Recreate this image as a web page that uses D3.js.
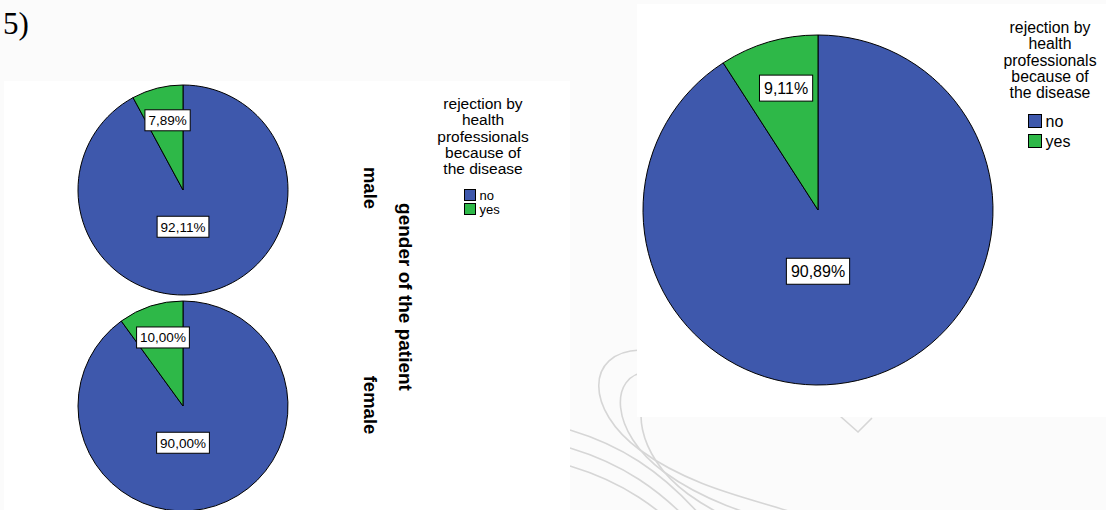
<!DOCTYPE html>
<html><head><meta charset="utf-8">
<script src="https://cdn.jsdelivr.net/npm/d3@7"></script>
<style>
html,body{margin:0;padding:0;background:#fbfbfb;}
svg{display:block;font-family:"Liberation Sans",Arial,sans-serif;}
</style></head>
<body>
<svg id="chart" width="1106" height="510"></svg>
<script>
const categories = ["no", "yes"];
const colors = ["#3e58ac", "#2eb848"];
const maleValues = [92.11, 7.89];
const femaleValues = [90.00, 10.00];
const totalValues = [90.89, 9.11];
const rowLabels = ["male", "female"];
const rowAxisTitle = "gender of the patient";
const legendTitle = ["rejection by", "health", "professionals", "because of", "the disease"];
const figureLabel = "5)";

const svg = d3.select("#chart");
const fmt = v => d3.format(".2f")(v).replace(".", ",") + "%";
const color = d3.scaleOrdinal().domain(categories).range(colors);

// background watermark
const wm = svg.append("g").attr("fill", "none").attr("stroke", "#d6d6d6").attr("stroke-width", 1.6);
[[0,0],[24,22],[48,44]].forEach(([a,b]) => {
  wm.append("path").attr("d", `M${640+a*0.3},${350+b} C${585+a},${352+b} ${585+a},${410+b} ${640+a},${450+b} S${760+a},${500+b} ${800+a},${515+b}`);
});
[0,18,36].forEach(a => {
  wm.append("path").attr("d", `M570,${430+a} C620,${445+a} 660,${470+a} 700,${515+a}`);
});
wm.append("path").attr("d", "M840,416 L858,432 L872,418");

// panels
svg.append("rect").attr("x", 4).attr("y", 81).attr("width", 566).attr("height", 429).attr("fill", "#fff");
svg.append("rect").attr("x", 637).attr("y", 4).attr("width", 469).attr("height", 413).attr("fill", "#fff");

svg.append("text").attr("x", 3).attr("y", 34).attr("font-family", "'Liberation Serif','Times New Roman',serif")
  .attr("font-size", 31).attr("fill", "#000").text(figureLabel);

const pie = d3.pie().sort(null).value(d => d);

function drawPie(values, cx, cy, r, fontSize, padX, boxH, lr) {
  const g = svg.append("g").attr("transform", `translate(${cx},${cy})`);
  const arcs = pie(values);
  const arc = d3.arc().innerRadius(0).outerRadius(r);
  g.selectAll("path").data(arcs).enter().append("path")
    .attr("d", arc).attr("fill", (d, i) => color(categories[i]))
    .attr("stroke", "#000").attr("stroke-width", 1);
  arcs.forEach((d, i) => {
    let x, y;
    if (d.endAngle - d.startAngle > Math.PI) {
      x = 0; y = r * 0.35;
    } else {
      const a = (d.startAngle + d.endAngle) / 2 + 0.03;
      const rr = r * lr;
      x = Math.sin(a) * rr; y = -Math.cos(a) * rr;
    }
    const lg = g.append("g").attr("transform", `translate(${x},${y})`);
    const t = lg.append("text").attr("text-anchor", "middle").attr("dy", "0.36em")
      .attr("font-size", fontSize).attr("fill", "#000").text(fmt(values[i]));
    const w = t.node().getComputedTextLength() + padX * 2;
    lg.insert("rect", "text").attr("x", -w / 2).attr("y", -boxH / 2).attr("width", w).attr("height", boxH)
      .attr("fill", "#fff").attr("stroke", "#000").attr("stroke-width", 1);
  });
}

drawPie(maleValues, 183, 190, 105, 13.5, 3.5, 21, 0.68);
drawPie(femaleValues, 183, 406, 105, 13.5, 3.5, 21, 0.68);
drawPie(totalValues, 818, 210, 175, 16, 4.5, 26, 0.72);

// row labels (rotated)
const rowY = [188, 405];
rowLabels.forEach((lbl, i) => {
  svg.append("text").attr("transform", `translate(364,${rowY[i]}) rotate(90)`)
    .attr("text-anchor", "middle").attr("font-size", 18.5).attr("font-weight", "bold").text(lbl);
});
svg.append("text").attr("transform", "translate(399,297) rotate(90)")
  .attr("text-anchor", "middle").attr("font-size", 19).attr("font-weight", "bold").text(rowAxisTitle);

function drawLegend(cx, y0, lh, fs, swX, swY0, sw, swGap, itemFs) {
  const g = svg.append("g");
  legendTitle.forEach((l, i) => {
    g.append("text").attr("x", cx).attr("y", y0 + i * lh).attr("text-anchor", "middle")
      .attr("font-size", fs).attr("fill", "#000").text(l);
  });
  categories.forEach((c, i) => {
    const y = swY0 + i * swGap;
    g.append("rect").attr("x", swX).attr("y", y).attr("width", sw).attr("height", sw)
      .attr("fill", color(c)).attr("stroke", "#000").attr("stroke-width", 1);
    g.append("text").attr("x", swX + sw + 4).attr("y", y + sw / 2).attr("dy", "0.36em")
      .attr("font-size", itemFs).attr("fill", "#000").text(c);
  });
}
drawLegend(483, 109, 16.3, 15.5, 464.5, 189.5, 11, 14, 13);
drawLegend(1050, 33, 16.3, 15.8, 1028.5, 114.5, 13, 20, 16);
</script>
</body></html>
